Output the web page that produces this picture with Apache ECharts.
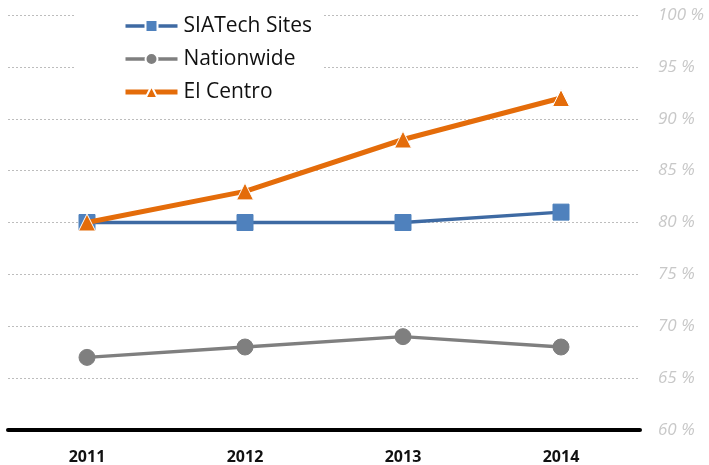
<!DOCTYPE html>
<html><head><meta charset="utf-8">
<script src="https://cdn.jsdelivr.net/npm/echarts@6/dist/echarts.min.js"></script>
<style>html,body{margin:0;padding:0;background:#fff}#c{width:709px;height:465px}</style>
</head><body><div id="c"></div>
<script>
const years = ['2011', '2012', '2013', '2014'];
const siatech = [80, 80, 80, 81];
const nationwide = [67, 68, 69, 68];
const elCentro = [80, 83, 88, 92];
const yMin = 60, yMax = 100, yStep = 5;

const chart = echarts.init(document.getElementById('c'));
chart.setOption({
  animation: false,
  backgroundColor: '#fff',
  grid: {left: 8, right: 69, top: 15, bottom: 35},
  legend: {
    left: 75, top: 8, orient: 'vertical',
    backgroundColor: '#fff', padding: [6, 10, 6, 48],
    itemWidth: 52, itemHeight: 15, itemGap: 9,
    textStyle: {fontFamily: 'Open Sans', fontSize: 21, color: '#111', lineHeight: 24, padding: [0, 0, 0, 1]},
    data: [
      {name: 'SIATech Sites', lineStyle: {width: 3.5, color: '#3e6aa3'}, itemStyle: {color: '#4f81bd', borderColor: '#fff', borderWidth: 2}},
      {name: 'Nationwide', lineStyle: {width: 3.5, color: '#7f7f7f'}, itemStyle: {color: '#7f7f7f', borderColor: '#fff', borderWidth: 2}},
      {name: 'El Centro', lineStyle: {width: 5, color: '#e46c0a'}, itemStyle: {color: '#e46c0a', borderColor: '#fff', borderWidth: 2}}
    ]
  },
  xAxis: {
    type: 'category', data: years, boundaryGap: true,
    axisLine: {lineStyle: {color: '#000', width: 4}},
    axisTick: {show: false},
    axisLabel: {fontFamily: 'Open Sans', fontWeight: 'bold', fontSize: 16, color: '#111', margin: 19}
  },
  yAxis: {
    type: 'value', position: 'right', min: yMin, max: yMax, interval: yStep,
    axisLine: {show: false}, axisTick: {show: false},
    axisLabel: {formatter: '{value} %', fontFamily: 'Open Sans', fontStyle: 'italic', fontSize: 17, color: '#c8c8c8', margin: 18},
    splitLine: {lineStyle: {color: '#bdbdbd', type: [2, 2], width: 1}}
  },
  series: [
    {name: 'SIATech Sites', type: 'line', data: siatech, z: 2,
     symbol: 'rect', symbolSize: 16,
     lineStyle: {color: '#3e6aa3', width: 3.5},
     itemStyle: {color: '#4f81bd', borderColor: '#4f81bd'}},
    {name: 'Nationwide', type: 'line', data: nationwide, z: 2,
     symbol: 'circle', symbolSize: 16,
     lineStyle: {color: '#7f7f7f', width: 3.5},
     itemStyle: {color: '#7f7f7f', borderColor: '#7f7f7f'}},
    {name: 'El Centro', type: 'line', data: elCentro, z: 3,
     symbol: 'triangle', symbolSize: 17,
     lineStyle: {color: '#e46c0a', width: 5},
     itemStyle: {color: '#e46c0a', borderColor: '#fff', borderWidth: 1}}
  ]
});
</script></body></html>
